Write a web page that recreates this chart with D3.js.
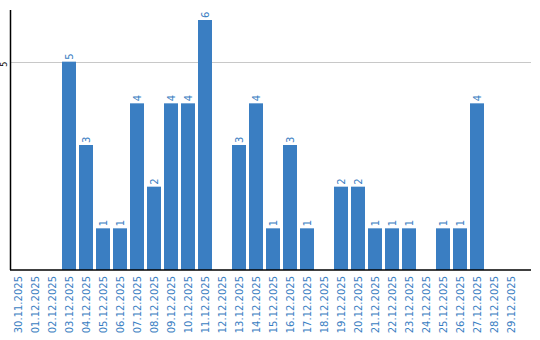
<!DOCTYPE html>
<html>
<head>
<meta charset="utf-8">
<script src="https://cdn.jsdelivr.net/npm/d3@7"></script>
<style>
  body { margin: 0; background: #fff; }
  text { font-family: "DejaVu Sans", Verdana, sans-serif; }
</style>
</head>
<body>
<svg id="chart" width="540" height="340"></svg>
<script>
// dates shown on the x axis, one bar per day
const days = ["30.11.2025", "01.12.2025", "02.12.2025", "03.12.2025", "04.12.2025",
  "05.12.2025", "06.12.2025", "07.12.2025", "08.12.2025", "09.12.2025",
  "10.12.2025", "11.12.2025", "12.12.2025", "13.12.2025", "14.12.2025",
  "15.12.2025", "16.12.2025", "17.12.2025", "18.12.2025", "19.12.2025",
  "20.12.2025", "21.12.2025", "22.12.2025", "23.12.2025", "24.12.2025",
  "25.12.2025", "26.12.2025", "27.12.2025", "28.12.2025", "29.12.2025"];
const counts = [0, 0, 0, 5, 3, 1, 1, 4, 2, 4, 4, 6, 0, 3, 4, 1, 3, 1, 0, 2, 2, 1, 1, 1, 0, 1, 1, 4, 0, 0];
const yTicks = [5];

const blue = "#3a7ec2";
const svg = d3.select("#chart");

//Scales
let x = d3.scaleBand()
    .domain(days)
    .range([11, 518])
    .paddingInner(3/17)
    .paddingOuter(0);
let y = d3.scaleLinear()
    .domain([0, 6])
    .range([270, 20]);

let barData = days.map((d,i) => ({day: d, n: counts[i]})).filter(d => d.n > 0);

//Gridline
svg.append("g").selectAll("line")
    .data(yTicks)
  .enter().append("line")
    .attr("x1", 11).attr("x2", 531)
    .attr("y1", d => Math.round(y(d)) + 0.5).attr("y2", d => Math.round(y(d)) + 0.5)
    .attr("stroke", "#c8c8c8");

//Bars
svg.append("g").selectAll("rect")
    .data(barData)
  .enter().append("rect")
    .attr("x", d => x(d.day))
    .attr("width", x.bandwidth())
    .attr("y", d => y(d.n))
    .attr("height", d => y(0) - y(d.n))
    .attr("fill", blue);

//Value labels above bars, rotated
svg.append("g").selectAll("text")
    .data(barData)
  .enter().append("text")
    .attr("transform", d => `translate(${x(d.day) + x.bandwidth()/2 + 3.5},${y(d.n) - 2}) rotate(-90)`)
    .attr("font-size", 10)
    .attr("fill", blue)
    .text(d => d.n);

//Y axis
let yAxis = svg.append("g")
    .attr("transform", "translate(10.5,0)")
    .call(d3.axisLeft(y).tickValues(yTicks).tickFormat(d3.format("d")).tickSize(0).tickPadding(0));
yAxis.select(".domain").attr("d", "M0,10V270").attr("stroke", "#000").attr("stroke-width", 1.5);
yAxis.selectAll("text")
    .attr("transform", "translate(-3.5,2) rotate(-90)")
    .attr("x", 0).attr("y", 0).attr("dy", 0)
    .attr("text-anchor", "middle")
    .attr("font-size", 8)
    .attr("fill", "#000");

//X axis
let xAxis = svg.append("g")
    .attr("transform", "translate(0,270)")
    .call(d3.axisBottom(x).tickSize(0).tickPadding(0));
xAxis.select(".domain").attr("d", "M10,0H531").attr("stroke", "#000").attr("stroke-width", 1.5);
xAxis.selectAll("text")
    .attr("transform", "translate(3.5,6) rotate(-90)")
    .attr("x", 0).attr("y", 0).attr("dy", 0)
    .attr("text-anchor", "end")
    .attr("font-size", 10)
    .attr("fill", blue);
</script>
</body>
</html>
